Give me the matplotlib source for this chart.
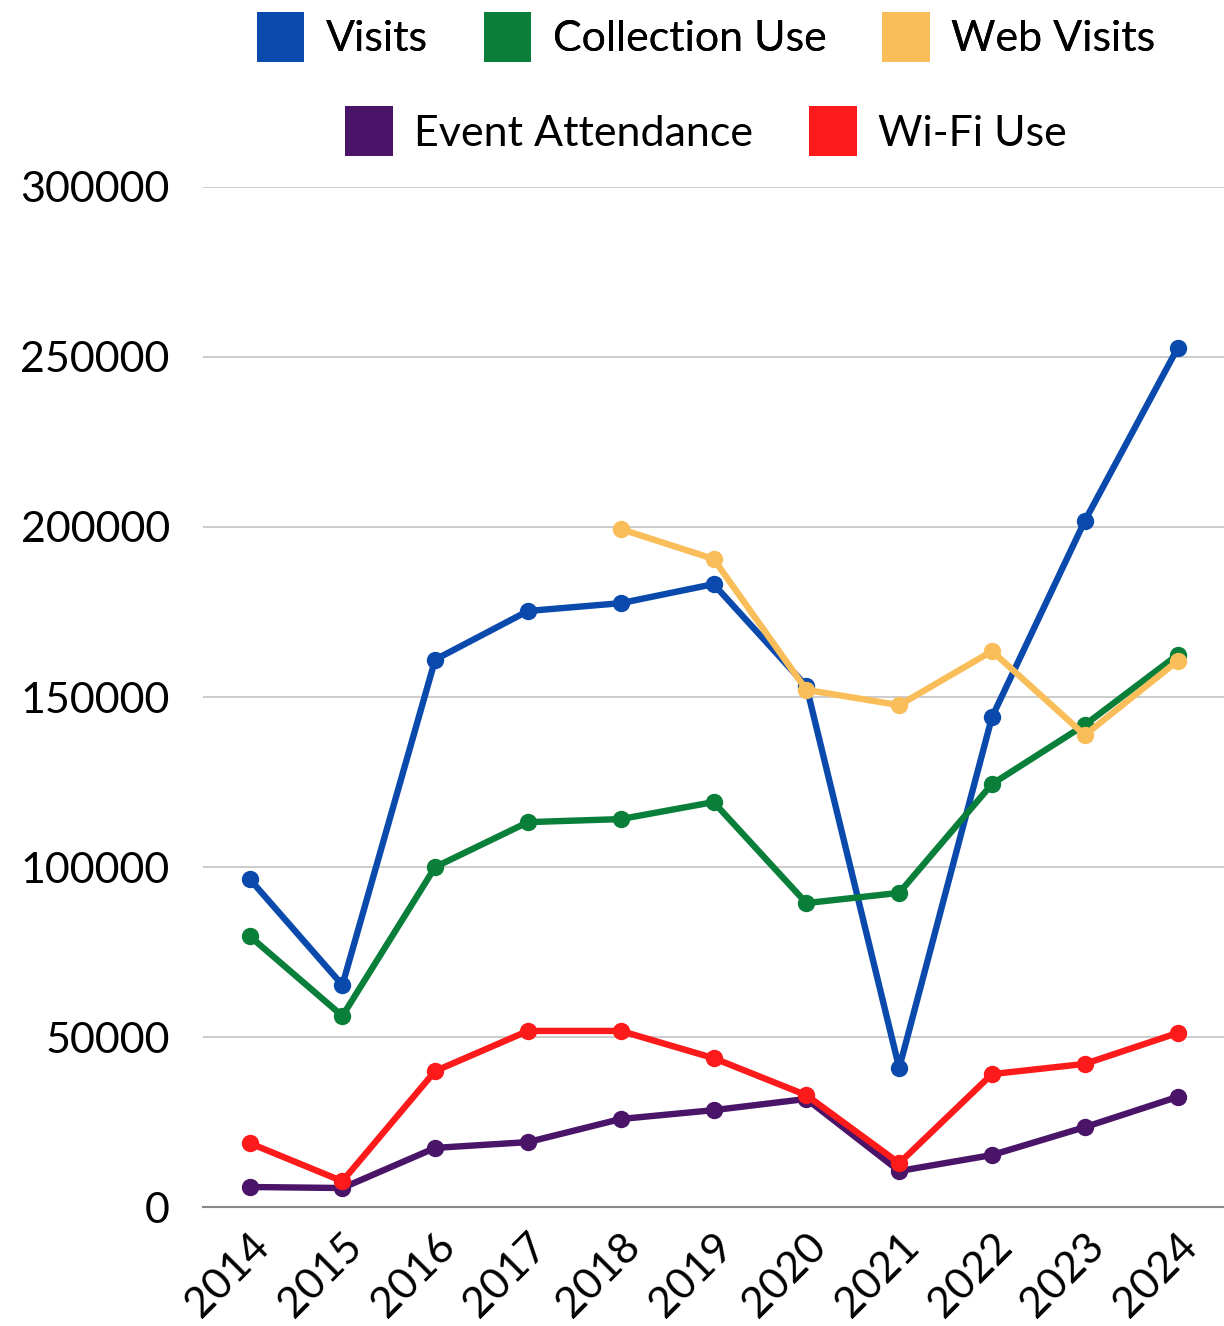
import matplotlib.pyplot as plt
from matplotlib.patches import Patch

plt.rcParams['font.family'] = ['Lato', 'DejaVu Sans']

years = ["2014", "2015", "2016", "2017", "2018", "2019", "2020", "2021", "2022", "2023", "2024"]

visits = [96500, 65300, 161000, 175300, 177600, 183200, 153200, 40900, 144100, 201800, 252600]
collection_use = [79700, 56200, 100000, 113200, 114100, 119100, 89400, 92400, 124400, 141800, 162400]
web_visits = [None, None, None, None, 199400, 190600, 152100, 147600, 163500, 138800, 160600]
event_attendance = [5900, 5600, 17400, 19100, 25900, 28500, 31800, 10600, 15300, 23500, 32400]
wifi_use = [18800, 7600, 40000, 51800, 51800, 43800, 32900, 12900, 39100, 42100, 51200]

names = ["Visits", "Collection Use", "Web Visits", "Event Attendance", "Wi-Fi Use"]
colors = ["#0a4aad", "#0a7f3a", "#f9be5a", "#4a1468", "#fd1a1a"]
series = [visits, collection_use, web_visits, event_attendance, wifi_use]

fig = plt.figure(figsize=(12.24, 13.26), dpi=100)
ax = fig.add_axes([0.166, 0.0897, 0.834, 0.7693])

x = list(range(len(years)))
for vals, c in zip(series, colors):
    xs = [i for i, v in zip(x, vals) if v is not None]
    ys = [v for v in vals if v is not None]
    ax.plot(xs, ys, color=c, linewidth=4.6, marker='o', markersize=11.5, solid_capstyle='round')

ax.set_xlim(-0.5, 10.5)
ax.set_ylim(0, 300000)
ax.set_yticks([0, 50000, 100000, 150000, 200000, 250000, 300000])
ax.set_yticklabels(["0", "50000", "100000", "150000", "200000", "250000", "300000"])
ax.set_xticks(x)
ax.set_xticklabels(years, rotation=45, ha='right', rotation_mode='anchor')
ax.tick_params(axis='both', length=0, labelsize=31, colors='black')
ax.tick_params(axis='y', pad=24)
ax.tick_params(axis='x', pad=14)

ax.grid(axis='y', color='#c8c8c8', linewidth=1.3)
ax.set_axisbelow(True)
for s in ['top', 'right', 'left']:
    ax.spines[s].set_visible(False)
ax.spines['bottom'].set_color('#888888')
ax.spines['bottom'].set_linewidth(1.5)

h = [Patch(facecolor=c) for c in colors]
leg1 = fig.legend(h[:3], names[:3], loc='center', bbox_to_anchor=(0.577, 0.972), ncol=3,
                  frameon=False, fontsize=31, handlelength=1.1, handleheight=1.4,
                  handletextpad=0.5, columnspacing=1.3)
leg2 = fig.legend(h[3:], names[3:], loc='center', bbox_to_anchor=(0.577, 0.901), ncol=2,
                  frameon=False, fontsize=31, handlelength=1.1, handleheight=1.4,
                  handletextpad=0.5, columnspacing=1.3)
fig.add_artist(leg1)

fig.savefig("out.png", dpi=100)
